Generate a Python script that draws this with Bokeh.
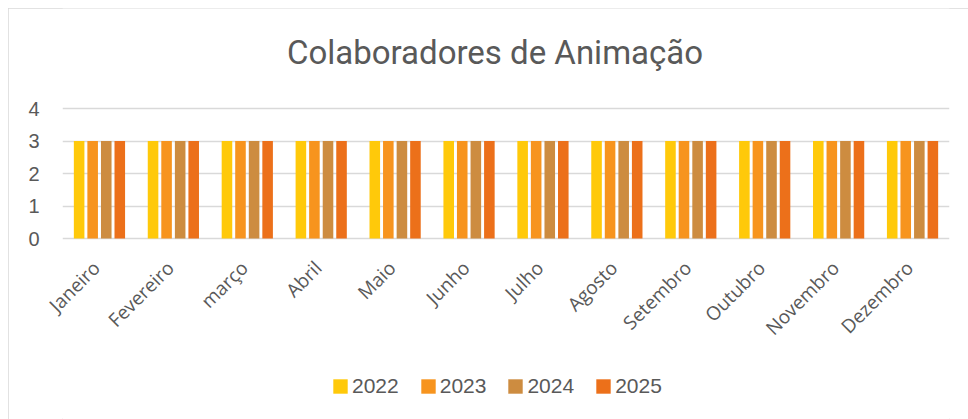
import math
from bokeh.plotting import figure
from bokeh.models import (FactorRange, Range1d, Legend, LegendItem, ColumnDataSource,
                          FixedTicker, Label)
from bokeh.core.properties import value
from bokeh.transform import dodge
from bokeh.embed import file_html
from bokeh.resources import INLINE

months = ["Janeiro", "Fevereiro", "março", "Abril", "Maio", "Junho", "Julho",
          "Agosto", "Setembro", "Outubro", "Novembro", "Dezembro"]
years = ["2022", "2023", "2024", "2025"]
v2022 = [3, 3, 3, 3, 3, 3, 3, 3, 3, 3, 3, 3]
v2023 = [3, 3, 3, 3, 3, 3, 3, 3, 3, 3, 3, 3]
v2024 = [3, 3, 3, 3, 3, 3, 3, 3, 3, 3, 3, 3]
v2025 = [3, 3, 3, 3, 3, 3, 3, 3, 3, 3, 3, 3]
y_ticks = [0, 1, 2, 3, 4]
colors = ["#FFC90A", "#F7941E", "#CD8C40", "#EC701A"]
title_text = "Colaboradores de Animação"

# layout (pixels)
W, H = 960, 411
LEFT, RIGHT = 54, 19
AXIS_TOP_PX, AXIS_ZERO_PX = 100, 230      # canvas y of value 4 and value 0
ppu = (AXIS_ZERO_PX - AXIS_TOP_PX) / (max(y_ticks) - min(y_ticks))
y_end = max(y_ticks) + AXIS_TOP_PX / ppu
y_start = min(y_ticks) - (H - AXIS_ZERO_PX) / ppu

src = ColumnDataSource(dict(month=months, base=[min(y_ticks)] * len(months),
                            y2022=v2022, y2023=v2023, y2024=v2024, y2025=v2025))

p = figure(width=W, height=H, output_backend="svg", toolbar_location=None,
           x_range=FactorRange(*months, range_padding=0), y_range=Range1d(y_start, y_end),
           min_border_left=LEFT, min_border_right=RIGHT, min_border_top=0, min_border_bottom=0,
           x_axis_location=None)
p.styles = {"margin-left": "8px", "margin-top": "8px",
            "outline": "1px solid #d9d9d9", "outline-offset": "-1px"}
p.outline_line_color = None
p.background_fill_color = "white"
p.border_fill_color = "white"

offsets = [-0.275, -0.092, 0.092, 0.275]
items = []
for yr, off, c in zip(years, offsets, colors):
    r = p.vbar(x=dodge("month", off, range=p.x_range), top="y" + yr, bottom="base", width=0.143,
               source=src, fill_color=c, line_color=None)
    items.append(LegendItem(label=yr, renderers=[r]))

p.xgrid.grid_line_color = None
p.yaxis.ticker = FixedTicker(ticks=y_ticks)
p.ygrid.grid_line_color = "#d9d9d9"
p.ygrid.grid_line_width = 1.3
p.ygrid.level = "underlay"
p.yaxis.axis_line_color = None
p.yaxis.major_tick_line_color = None
p.yaxis.minor_tick_line_color = None
p.yaxis.major_label_standoff = 17
p.yaxis.major_label_text_font = "Liberation Sans"
p.yaxis.major_label_text_font_size = "20px"
p.yaxis.major_label_text_color = "#595959"

# category labels, rotated 45 degrees under the baseline (overlay level: not clipped to frame)
p.text(x="month", y="base", text="month", source=src, angle=math.pi / 4,
       text_align="right", text_baseline="middle", x_offset=-3, y_offset=26,
       text_font=value("Open Sans"), text_font_size="19px", text_color="#595959",
       level="overlay")

# title
p.add_layout(Label(x=len(months) / 2, y=max(y_ticks) + (AXIS_TOP_PX - 44) / ppu, x_offset=-11,
                   text=title_text, text_align="center", text_baseline="alphabetic",
                   text_font="Roboto", text_font_size="33px", text_color="#595959"))

legend = Legend(items=items, orientation="horizontal", location=(269, 21),
                border_line_color=None, background_fill_alpha=0,
                label_text_font="Liberation Sans", label_text_font_size="21px",
                label_text_color="#595959", glyph_width=18, glyph_height=18,
                spacing=20, label_standoff=3, margin=0, padding=0)
p.add_layout(legend, "center")

open("out.html", "w").write(file_html(p, INLINE))
